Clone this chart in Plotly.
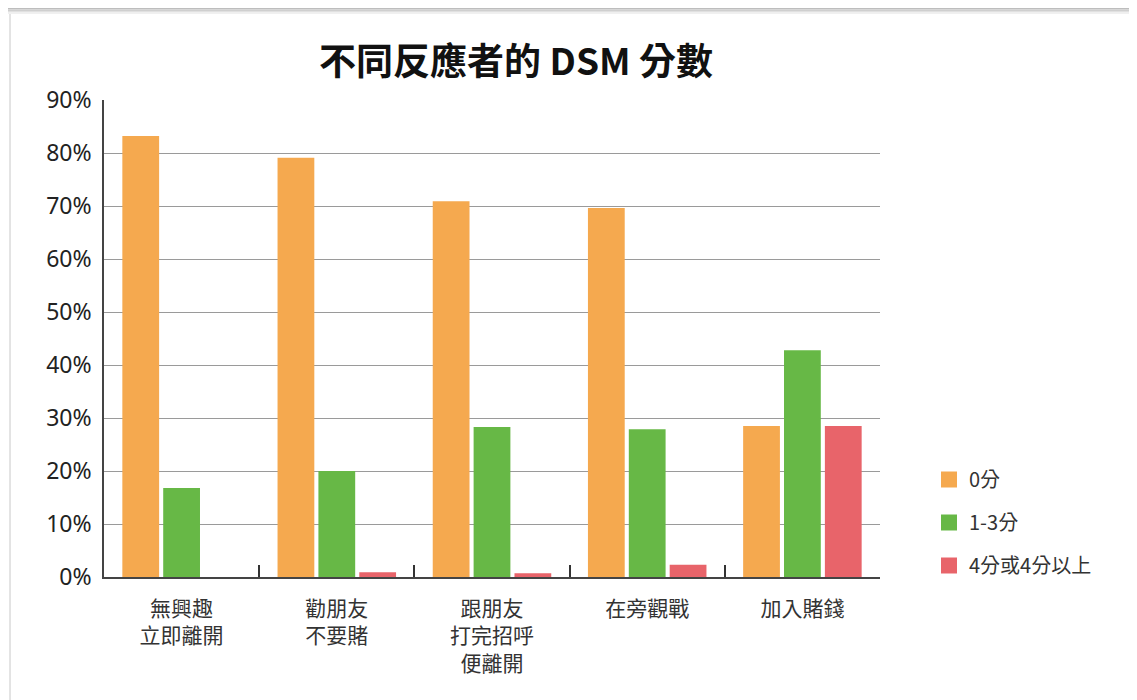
import plotly.graph_objects as go

categories = ["無興趣<br>立即離開", "勸朋友<br>不要賭", "跟朋友<br>打完招呼<br>便離開", "在旁觀戰", "加入賭錢"]
series_names = ["0分", "1-3分", "4分或4分以上"]
score_0 = [83.2, 79.1, 70.9, 69.6, 28.5]
score_1_3 = [16.8, 20.0, 28.3, 27.9, 42.8]
score_4_plus = [0.0, 0.9, 0.7, 2.3, 28.5]
colors = ["#F5A94F", "#67B846", "#E8646A"]

W, H = 1137, 700
OFF = 8  # page body offset
L, R, T, B = 104 - OFF, 880 - OFF, 100 - OFF, 577 - OFF

def px_x(p):
    return (p - OFF - L) / (R - L)

def px_y(p):
    return (B - (p - OFF)) / (B - T)

fig = go.Figure()
for name, vals, col in zip(series_names, [score_0, score_1_3, score_4_plus], colors):
    fig.add_trace(go.Bar(x=categories, y=vals, name=name, showlegend=False,
                         marker=dict(color=col, line=dict(width=0))))
for name, col in zip(series_names, colors):
    fig.add_trace(go.Scatter(x=[None], y=[None], mode="markers", name=name, legendgroup=name,
                             marker=dict(symbol="square", size=16, color=col)))

shapes = []
for i, c in enumerate(["#bdbdbd", "#cfcfcf", "#e0e0e0", "#f0f0f0"]):
    shapes.append(dict(type="rect", xref="paper", yref="paper",
                       x0=px_x(0), x1=px_x(W + 20), y0=px_y(8 + 1.5 * i), y1=px_y(8 + 1.5 * i + 1.5),
                       fillcolor=c, line=dict(width=0), layer="below"))
shapes.append(dict(type="line", xref="paper", yref="paper",
                   x0=px_x(10), x1=px_x(10), y0=px_y(14), y1=px_y(H + 20),
                   line=dict(color="#c8c8c8", width=1), layer="below"))

fig.update_layout(
    width=W, height=H,
    margin=dict(l=L, r=W - R, t=T, b=H - B),
    paper_bgcolor="white", plot_bgcolor="white",
    barmode="group", bargap=0.21, bargroupgap=0.1,
    title=dict(text="<b>不同反應者的 DSM 分數</b>", x=(516 - OFF) / W, xanchor="center",
               y=1 - (62 - OFF) / H, yanchor="middle",
               font=dict(family="Noto Sans CJK TC", size=37, color="#111")),
    font=dict(family="Noto Sans CJK TC, Noto Sans", color="#222"),
    xaxis=dict(showline=True, linecolor="#444", linewidth=1.5, ticks="inside", tickson="boundaries",
               ticklen=12, tickcolor="#333", tickwidth=1.5, showgrid=False, ticklabelstandoff=12,
               tickfont=dict(size=21, family="Noto Sans CJK TC", color="#333")),
    yaxis=dict(range=[0, 90], tick0=0, dtick=10, ticksuffix="%", showline=True, linecolor="#444",
               linewidth=1.5, showgrid=True, gridcolor="#9a9a9a", gridwidth=1, zeroline=False,
               ticks="", ticklabelstandoff=6,
               tickfont=dict(size=23, family="Noto Sans, Open Sans", color="#222")),
    legend=dict(x=px_x(929), y=px_y(460), xanchor="left", yanchor="top",
                font=dict(size=20, family="Noto Sans CJK TC", color="#333"),
                tracegroupgap=14, itemwidth=30, bgcolor="rgba(0,0,0,0)"),
    shapes=shapes,
)

fig.write_html("out.html")
